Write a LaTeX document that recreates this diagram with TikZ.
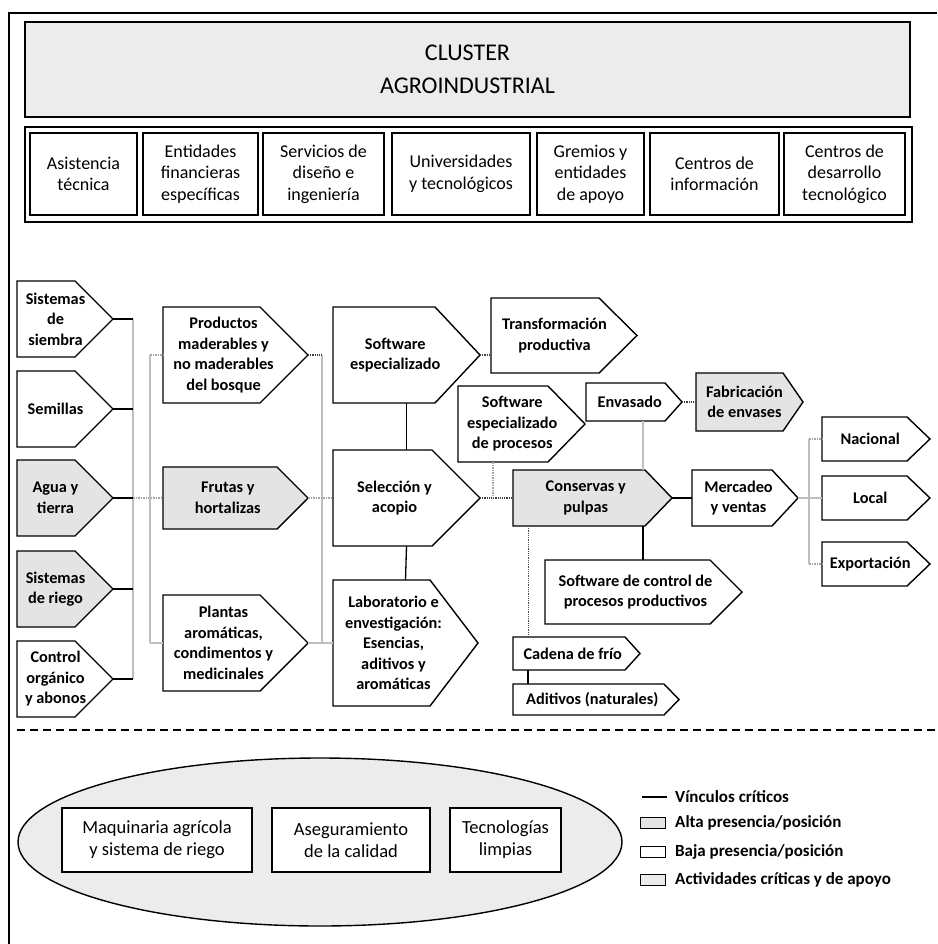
\documentclass[tikz,border=0pt]{standalone}
\usepackage{fontspec}
\setmainfont{Carlito}
\usetikzlibrary{calc,shapes.geometric}
\definecolor{gfill}{RGB}{228,228,228}
\definecolor{tfill}{RGB}{236,236,236}
\definecolor{lgray}{RGB}{190,190,190}
\newcommand\ffont{\fontsize{16.3}{20.5}\selectfont\bfseries}
\newcommand\rfont{\fontsize{18}{21.5}\selectfont}
\newcommand\efont{\fontsize{18.5}{22}\selectfont}
\newcommand\lfont{\fontsize{17}{20}\selectfont\bfseries}
\tikzset{
  box/.style={draw=black, line width=1.4pt, line join=miter},
  inv/.style={draw=none, shape=rectangle, inner sep=0pt, outer sep=0pt},
  ftext/.style={align=center, inner sep=0pt, font=\ffont},
  rbx/.style={draw=black, line width=1.5pt, fill=white, align=center, inner sep=0pt, font=\rfont},
  ebx/.style={draw=black, line width=1.4pt, fill=white, align=center, inner sep=0pt, font=\efont},
  crit/.style={black, line width=1.3pt},
  light/.style={lgray, line width=2.2pt},
  lightdot/.style={gray!70, line width=1.5pt, densely dotted},
  dotc/.style={black!75, line width=1.2pt, densely dotted},
  dotthin/.style={black!70, line width=0.8pt, densely dotted},
  leg/.style={anchor=west, inner sep=0pt, font=\lfont},
  legbox/.style={draw=black, line width=1.3pt, minimum width=25pt, minimum height=11pt, inner sep=0pt}
}
% name, x1, y1, x2, y2, depth, fill, text
\newcommand\pent[8]{%
  \path[box,fill=#7] (#2,#3) -- ({#4-#6},#3) -- (#4,{(#3+#5)/2}) -- ({#4-#6},#5) -- (#2,#5) -- cycle;
  \node[inv, minimum width=#4pt-#2pt, minimum height=#5pt-#3pt] (#1) at ({(#2+#4)/2},{(#3+#5)/2}) {};
  \node[ftext] (#1-t) at ({(#2+#4-#6/2)/2},{(#3+#5)/2}) {#8};
}
% name, x1, y1, x2, y2, style, text
\newcommand\rbox[7]{%
  \node[#6, minimum width=#4pt-#2pt, minimum height=#5pt-#3pt] (#1) at ({(#2+#4)/2},{(#3+#5)/2}) {#7};
}
\begin{document}
\begin{tikzpicture}[x=1pt,y=-1pt]
\useasboundingbox (0,0) rectangle (937,944);
\fill[white] (0,0) rectangle (937,944);
% outer frame
\draw[line width=1.8pt] (9,944) -- (9,13) -- (937,13);
% title
\node[draw=black, line width=1.6pt, fill=tfill, minimum width=885pt, minimum height=95pt, inner sep=0pt, align=center, font=\fontsize{24}{33}\selectfont] (title) at (467.5,69.5) {CLUSTER\\AGROINDUSTRIAL};
% support row container
\node[draw=black, line width=1.5pt, minimum width=887pt, minimum height=95pt, inner sep=0pt] (row) at (468.5,174.5) {};
\rbox{r1}{30}{133}{137}{215}{rbx}{Asistencia\\técnica}
\rbox{r2}{143}{133}{258}{215}{rbx}{Entidades\\financieras\\específicas}
\rbox{r3}{263}{133}{384}{215}{rbx}{Servicios de\\diseño e\\ingeniería}
\rbox{r4}{392}{133}{530}{215}{rbx}{Universidades\\y tecnológicos}
\rbox{r5}{537}{133}{644}{215}{rbx}{Gremios y\\entidades\\de apoyo}
\rbox{r6}{650}{133}{779}{215}{rbx}{Centros de\\información}
\rbox{r7}{784}{133}{905}{215}{rbx}{Centros de\\desarrollo\\tecnológico}
% trunk coordinates
\coordinate (tA) at (133,0);
\coordinate (tB) at (150,0);
\coordinate (tC) at (322,0);
\coordinate (tD) at (809,0);
\coordinate (vE) at (643,0);
\coordinate (vF) at (528,0);
\coordinate (vG) at (493,0);
\pent{siembra}{17}{281}{113}{357}{38}{white}{Sistemas\\de\\siembra}
\pent{semillas}{17}{371}{113}{447}{38}{white}{Semillas}
\pent{agua}{17}{460}{113}{536}{38}{gfill}{Agua y\\tierra}
\pent{riego}{17}{551}{113}{627}{38}{gfill}{Sistemas\\de riego}
\pent{control}{17}{641}{113}{717}{38}{white}{Control\\orgánico\\y abonos}
\pent{productos}{163}{307}{308}{403}{48}{white}{Productos\\maderables y\\no maderables\\del bosque}
\pent{frutas}{163}{467}{308}{529}{31}{gfill}{Frutas y\\hortalizas}
\pent{plantas}{163}{595}{308}{691}{48}{white}{Plantas\\aromáticas,\\condimentos y\\medicinales}
\pent{sw}{333}{307}{480}{403}{45}{white}{Software\\especializado}
\pent{sel}{333}{450}{480}{546}{48}{white}{Selección y\\acopio}
\pent{lab}{333}{580}{478}{706}{48}{white}{Laboratorio e\\envestigación:\\Esencias,\\aditivos y\\aromáticas}
\pent{trans}{491}{298}{637}{373}{38}{white}{Transformación\\productiva}
\pent{swp}{458}{386}{585}{462}{37}{white}{Software\\especializado\\de procesos}
\pent{env}{586}{383}{682}{421}{17}{white}{Envasado}
\pent{fab}{696}{373}{803}{431}{20}{gfill}{Fabricación\\de envases}
\pent{cons}{513}{470}{672}{526}{27}{gfill}{Conservas y\\pulpas}
\pent{merc}{692}{470}{798}{526}{26}{white}{Mercadeo\\y ventas}
\pent{nac}{822}{417}{930}{461}{23}{white}{Nacional}
\pent{loc}{822}{476}{930}{520}{23}{white}{Local}
\pent{exp}{822}{542}{930}{586}{23}{white}{Exportación}
\pent{swc}{545}{560}{742}{624}{32}{white}{Software de control de\\procesos productivos}
\pent{cad}{513}{637}{640}{670}{15}{white}{Cadena de frío}
\pent{adi}{513}{684}{679}{715}{15}{white}{Aditivos (naturales)}
% connectors: primary column
\draw[light] (siembra.east -| tA) -- (control.east -| tA);
\draw[crit] (siembra.east) -- (siembra.east -| tA);
\draw[crit] (semillas.east) -- (semillas.east -| tA);
\draw[crit] (agua.east) -- (agua.east -| tA);
\draw[crit] (riego.east) -- (riego.east -| tA);
\draw[crit] (control.east) -- (control.east -| tA);
\draw[lightdot] (agua.east -| tA) -- (frutas.west);
\draw[light] (productos.west -| tB) -- (plantas.west -| tB);
\draw[lightdot] (productos.west -| tB) -- (productos.west);
\draw[light] (plantas.west -| tB) -- (plantas.west);
% second column
\draw[light] (productos.east -| tC) -- (plantas.east -| tC);
\draw[dotc] (productos.east) -- (productos.east -| tC);
\draw[lightdot] (frutas.east) -- (sel.west);
\draw[light] (plantas.east) -- (lab.west);
\draw[crit] (sw.south) -- (sel.north);
\draw[crit] (sel.south) -- (lab.north);
% processing
\draw[dotc] (sw.east) -- (sw.east -| trans.west);
\draw[dotc] (sel.east) -- (cons.west);
\draw[lightdot] (swp.south -| vG) -- (sel.east -| vG);
\draw[dotc] (env.east) -- (fab.west);
\draw[light] (env.south -| vE) -- (cons.north -| vE);
\draw[crit] (cons.east) -- (merc.west);
\draw[crit] (cons.south -| vE) -- (swc.north -| vE);
\draw[dotthin] (cons.south -| vF) -- (cad.north -| vF);
\draw[crit] (cad.south -| vF) -- (adi.north -| vF);
% markets
\draw[light] (nac.west -| tD) -- (exp.west -| tD);
\draw[light] (merc.east) -- (loc.west);
\draw[lightdot] (nac.west -| tD) -- (nac.west);
\draw[lightdot] (exp.west -| tD) -- (exp.west);
% dashed separator
\coordinate (dl) at (17,730);
\coordinate (dr) at (937,730);
\draw[line width=1.5pt, dash pattern=on 8pt off 5pt] (dl) -- (dr);
% ellipse
\node[draw=black, line width=1.4pt, fill=tfill, shape=ellipse, minimum width=604pt, minimum height=168pt, inner sep=0pt] (ell) at (320,842) {};
\rbox{m1}{62}{808}{252}{872}{ebx}{Maquinaria agrícola\\y sistema de riego}
\rbox{m2}{272}{808}{430}{872}{ebx}{Aseguramiento\\de la calidad}
\rbox{m3}{450}{808}{561}{872}{ebx}{Tecnologías\\limpias}
% legend
\coordinate (lg0a) at (642,797);
\coordinate (lg0b) at (667,797);
\draw[black, line width=1.3pt] (lg0a) -- (lg0b);
\node[leg] (lt0) at (675,797) {Vínculos críticos};
\node[legbox, fill=gfill] (lb1) at (653,823) {};
\node[leg] (lt1) at (675,823) {Alta presencia/posición};
\node[legbox, fill=white] (lb2) at (653,852) {};
\node[leg] (lt2) at (675,852) {Baja presencia/posición};
\node[legbox, fill=tfill, line width=1.7pt] (lb3) at (653,880) {};
\node[leg] (lt3) at (675,880) {Actividades críticas y de apoyo};
\end{tikzpicture}
\end{document}
